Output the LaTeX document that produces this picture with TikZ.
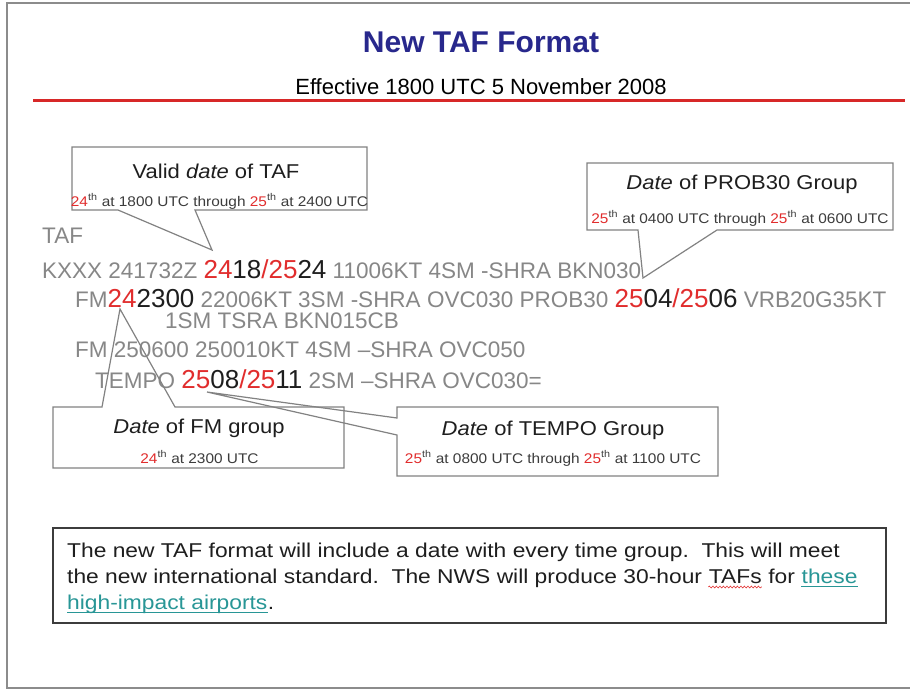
\documentclass[tikz,border=0pt]{standalone}
\usepackage{fontspec}
\setmainfont{Liberation Sans}
\newfontfamily\wfont[FakeStretch=1.1]{Liberation Sans}
\newfontfamily\bfont[FakeStretch=1.14]{Liberation Sans}
\usetikzlibrary{calc,decorations.pathmorphing}
\definecolor{tafgray}{RGB}{135,135,135}
\definecolor{tafred}{RGB}{225,45,45}
\definecolor{tafblack}{RGB}{30,30,30}
\definecolor{titleblue}{RGB}{40,40,140}
\definecolor{linkteal}{RGB}{40,150,150}
\definecolor{boxgray}{RGB}{130,130,130}
\definecolor{notegray}{RGB}{60,60,60}
\definecolor{framegray}{RGB}{140,140,140}
\definecolor{rulered}{RGB}{215,40,40}
\newcommand{\tred}[1]{\textcolor{tafred}{#1}}
\newcommand{\tblk}[1]{\textcolor{tafblack}{#1}}
\newcommand{\bigd}{\fontsize{26}{30}\selectfont}
\newcommand{\thsup}{\textsuperscript{th}}
\begin{document}
\begin{tikzpicture}[x=1pt,y=-1pt,
  taf/.style={anchor=base west, inner sep=0pt, text=tafgray, font=\fontsize{22.5}{26}\selectfont},
  ctitle/.style={anchor=base, inner sep=0pt, text=tafblack, font=\wfont\fontsize{20}{24}\selectfont},
  csmall/.style={anchor=base, inner sep=0pt, text=notegray, font=\wfont\fontsize{14}{16}\selectfont},
  cbox/.style={draw=none, inner sep=0pt, outer sep=0pt, rectangle},
  cline/.style={draw=boxgray, line width=1.2pt, line join=miter},
  btxt/.style={anchor=base west, inner sep=0pt, text=tafblack, font=\bfont\fontsize{20}{24}\selectfont},
  blink/.style={btxt, text=linkteal},
  linkline/.style={draw=linkteal, line width=1pt},
]
\useasboundingbox (0,0) rectangle (910,690);
\fill[white] (0,0) rectangle (910,690);

% frame
\coordinate (f1) at (920,3);
\coordinate (f2) at (7,3);
\coordinate (f3) at (7,688);
\coordinate (f4) at (920,688);
\draw[framegray, line width=1.3pt] (f1) -- (f2) -- (f3) -- (f4);

% title
\node[anchor=base, inner sep=0pt, text=titleblue, font=\bfseries\fontsize{30}{34}\selectfont] (title) at (481,53) {New TAF Format};
\node[anchor=base, inner sep=0pt, text=black, font=\fontsize{22}{26}\selectfont] (sub) at (481,95) {Effective 1800 UTC 5 November 2008};
\coordinate (r1) at (33,101);
\coordinate (r2) at (905,101);
\draw[rulered, line width=3pt] (r1) -- (r2);

% TAF text
\node[taf] (l0) at (42,243) {TAF};
\node[taf] (l1) at (42,278) {KXXX 241732Z {\bigd\tred{24}\tblk{18}\tred{/25}\tblk{24}} 11006KT 4SM -SHRA BKN030};
\node[taf] (l2) at (75,307) {FM{\bigd\tred{24}\tblk{2300}} 22006KT 3SM -SHRA OVC030 PROB30 {\bigd\tred{25}\tblk{04}\tred{/25}\tblk{06}} VRB20G35KT};
\node[taf] (l3) at (165,328) {1SM TSRA BKN015CB};
\node[taf] (l4) at (75,357) {FM 250600 250010KT 4SM --SHRA OVC050};
\node[taf] (l5) at (95,388) {TEMPO {\bigd\tred{25}\tblk{08}\tred{/25}\tblk{11}} 2SM --SHRA OVC030=};

% pointer tips
\coordinate (tipv) at (212,250);
\coordinate (tipp) at (643,278);
\coordinate (tipf) at (120,309);
\coordinate (tipt) at (207,392);

% Valid date callout
\node[cbox, minimum width=295, minimum height=63] (vbox) at (219.5,178.5) {};
\draw[cline] (vbox.south east) -- ($(vbox.south west)+(123,0)$) -- (tipv) -- ($(vbox.south west)+(46,0)$) -- (vbox.south west) -- (vbox.north west) -- (vbox.north east) -- cycle;
\node[ctitle] (vtitle) at (216,178) {Valid \textit{date} of TAF};
\node[csmall] (vsmall) at (219.5,206) {\tred{24}\thsup{} at 1800 UTC through \tred{25}\thsup{} at 2400 UTC};

% PROB30 callout
\node[cbox, minimum width=306, minimum height=67] (pbox) at (740,196.5) {};
\draw[cline] (pbox.south east) -- ($(pbox.south west)+(130,0)$) -- (tipp) -- ($(pbox.south west)+(51,0)$) -- (pbox.south west) -- (pbox.north west) -- (pbox.north east) -- cycle;
\node[ctitle] (ptitle) at (742,189) {\textit{Date} of PROB30 Group};
\node[csmall] (psmall) at (740,223) {\tred{25}\thsup{} at 0400 UTC through \tred{25}\thsup{} at 0600 UTC};

% FM callout
\node[cbox, minimum width=291, minimum height=61] (fbox) at (198.5,437.5) {};
\draw[cline] (fbox.north west) -- ($(fbox.north west)+(49,0)$) -- (tipf) -- ($(fbox.north west)+(122,0)$) -- (fbox.north east) -- (fbox.south east) -- (fbox.south west) -- cycle;
\node[ctitle] (ftitle) at (199,433) {\textit{Date} of FM group};
\node[csmall] (fsmall) at (199.5,463) {\tred{24}\thsup{} at 2300 UTC};

% TEMPO callout
\node[cbox, minimum width=321, minimum height=69] (tbox) at (557.5,441.5) {};
\draw[cline] (tbox.north west) -- (tbox.north east) -- (tbox.south east) -- (tbox.south west) -- ($(tbox.north west)+(0,28)$) -- (tipt) -- ($(tbox.north west)+(0,11)$) -- cycle;
\node[ctitle] (ttitle) at (553,435) {\textit{Date} of TEMPO Group};
\node[csmall] (tsmall) at (553,463) {\tred{25}\thsup{} at 0800 UTC through \tred{25}\thsup{} at 1100 UTC};

% note box
\node[draw=notegray, line width=2pt, inner sep=0pt, minimum width=833, minimum height=95] (note) at (469.5,575.5) {};
\node[btxt] (b1) at (67,557) {The new TAF format will include a date with every time group.\ \ This will meet};
\node[btxt] (b2a) at (67,583) {the new international standard.\ \ The NWS will produce 30-hour};
\node[btxt] (b2b) at (b2a.base east) {\ TAFs};
\node[btxt] (b2c) at (b2b.base east) {\ for};
\node[blink, xshift=6.3pt] (b2d) at (b2c.base east) {these};
\node[blink] (b3a) at (67,609) {high-impact airports};
\node[btxt] (b3b) at (b3a.base east) {.};
\draw[linkline] ($(b2d.base west)+(0,3)$) -- ($(b2d.base east)+(0,3)$);
\draw[linkline] ($(b3a.base west)+(0,3)$) -- ($(b3a.base east)+(0,3)$);
\draw[tafred, line width=0.6pt, decorate, decoration={snake, amplitude=0.9pt, segment length=3.5pt}]
  ($(b2b.base west)+(6,4)$) -- ($(b2b.base east)+(0,4)$);
\end{tikzpicture}
\end{document}
